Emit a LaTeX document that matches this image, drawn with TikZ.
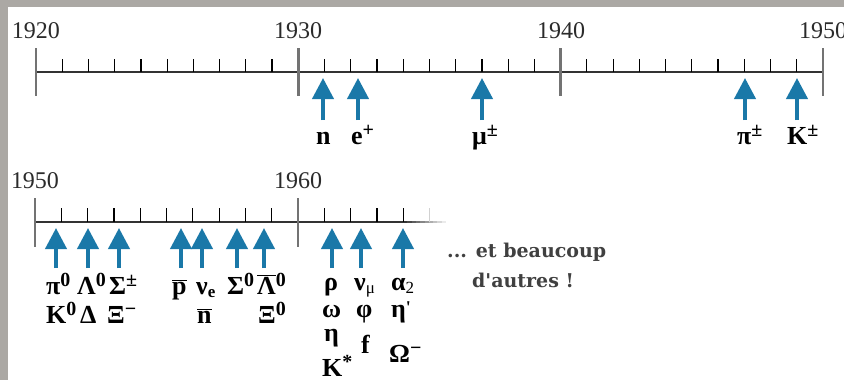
\documentclass[tikz,border=0pt]{standalone}
\usepackage{fontspec}
\setmainfont{Liberation Serif}
\newfontfamily\slab{DejaVu Serif}
\usetikzlibrary{arrows.meta}
\definecolor{arrblue}{HTML}{1A78A8}
\definecolor{bggray}{HTML}{ABA8A4}
\definecolor{yeargray}{HTML}{2B2B2B}
\definecolor{moregray}{HTML}{404040}
\newcommand\hi[1]{\raisebox{8pt}{\fontsize{20}{20}\selectfont #1}}
\newcommand\lo[1]{\raisebox{-3pt}{\fontsize{17}{17}\selectfont #1}}
\newcommand\ovl[1]{$\overline{\hbox{#1}}$}
\begin{document}
\begin{tikzpicture}[x=1pt,y=-1pt,
  year/.style={font=\fontsize{24}{24}\selectfont, text=yeargray, anchor=base, inner sep=0pt},
  lab/.style={font=\fontsize{26}{26}\selectfont\bfseries, anchor=base west, inner sep=0pt},
  arr/.style={draw=arrblue, line width=4pt, -{Triangle[width=21pt,length=21pt]}},
  axisline/.style={line width=1.3pt, draw=black!80},
  bigtick/.style={line width=2.4pt, draw=black!55},
  smalltick/.style={line width=1.2pt, draw=black},
  more/.style={font=\slab\bfseries\fontsize{19}{19}\selectfont, text=moregray, anchor=base west, inner sep=0pt},
]
\useasboundingbox (0,0) rectangle (844,380);
\fill[bggray] (0,0) rectangle (844,380);
\fill[white] (8,7) rectangle (844,380);

% ---------- first time line 1920-1950 ----------
\draw[axisline] (36,72) -- (823,72);
\foreach \i in {1,...,29} \draw[smalltick] ({36+26.233*\i},59) -- ({36+26.233*\i},72);
\foreach \i in {0,10,20,30} \draw[bigtick] ({36+26.233*\i},48) -- ({36+26.233*\i},96);
\node[year] (y1920) at (36,38) {1920};
\node[year] (y1930) at (298,38) {1930};
\node[year] (y1940) at (561,38) {1940};
\node[year] (y1950a) at (823,38) {1950};

\foreach \n/\x in {n/323, e/358, mu/482, pi/745, K/797} {
  \coordinate (t\n) at (\x,78);
  \coordinate (b\n) at (\x,120);
  \draw[arr] (b\n) -- (t\n);
}
\node[lab] (ln) at (316,144) {n};
\node[lab] (le) at (351,144) {e\hi{+}};
\node[lab] (lmu) at (472,144) {μ\hi{±}};
\node[lab] (lpi) at (737,144) {π\hi{±}};
\node[lab] (lK) at (787,144) {K\hi{±}};

% ---------- second time line 1950-... ----------
\draw[axisline] (35,222) -- (403,222);
\foreach \k in {0,...,9} \pgfmathsetmacro{\shade}{80-8*\k}
  \draw[line width=1.3pt, draw=black!\shade] ({403+4.3*\k},222) -- ({403+4.3*(\k+1)},222);
\foreach \i in {1,...,14} \draw[smalltick] ({35+26.3*\i},208) -- ({35+26.3*\i},222);
\draw[line width=1.2pt, draw=black!18] ({35+26.3*15},208) -- ({35+26.3*15},222);
\foreach \i in {0,10} \draw[bigtick] ({35+26.3*\i},198) -- ({35+26.3*\i},247);
\node[year] (y1950b) at (35,188) {1950};
\node[year] (y1960) at (298,188) {1960};

\foreach \n/\x in {a/56, b/88, c/119, d/181, e2/202, f/237, g/264, h/332, i/361, j/403} {
  \coordinate (t\n) at (\x,228);
  \coordinate (b\n) at (\x,268);
  \draw[arr] (b\n) -- (t\n);
}
\node[lab] (lpi0) at (46,294) {π\hi{0}};
\node[lab] (lLa) at (77,294) {Λ\hi{0}};
\node[lab] (lSipm) at (109,294) {Σ\hi{±}};
\node[lab] (lpbar) at (172,294) {\ovl{p}};
\node[lab] (lnue) at (196,294) {ν\lo{e}};
\node[lab] (lSi0) at (227,294) {Σ\hi{0}};
\node[lab] (lLabar) at (257,294) {\ovl{Λ}\hi{0}};
\node[lab] (lK0) at (46,323) {K\hi{0}};
\node[lab] (lDe) at (80,323) {Δ};
\node[lab] (lXim) at (107,323) {Ξ\hi{−}};
\node[lab] (lnbar) at (197,323) {\ovl{n}};
\node[lab] (lXi0) at (258,323) {Ξ\hi{0}};

\node[lab] (lrho) at (324,290) {ρ};
\node[lab] (lom) at (322,317) {ω};
\node[lab] (let) at (324,341) {η};
\node[lab] (lKs) at (322,376) {K\hi{*}};
\node[lab] (lnum) at (354,290) {ν\lo{\mdseries μ}};
\node[lab] (lphi) at (356,317) {φ};
\node[lab] (lf) at (361,353) {f};
\node[lab] (la2) at (391,290) {α\lo{\mdseries 2}};
\node[lab] (letp) at (391,317) {η\raisebox{4pt}{\fontsize{18}{18}\selectfont\textquotesingle}};
\node[lab] (lOm) at (389,362) {Ω\hi{−}};

\node[more] (more1) at (447,257) {... et beaucoup};
\node[more] (more2) at (472,287) {d\textquotesingle autres !};
\end{tikzpicture}
\end{document}
